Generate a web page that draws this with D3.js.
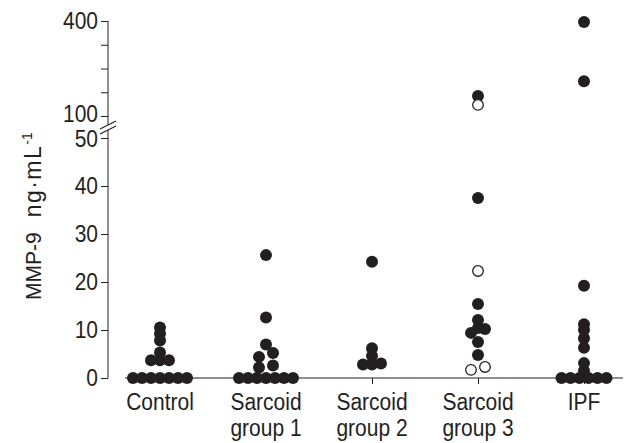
<!DOCTYPE html>
<html>
<head>
<meta charset="utf-8">
<script src="https://cdn.jsdelivr.net/npm/d3@7"></script>
<style>
  body { margin: 0; background: #fff; }
  svg { display: block; font-family: "Liberation Sans", Arial, Helvetica, sans-serif; }
  .axis text { font-size: 21px; fill: #231f20; }
  .axis line, .axis path { stroke: #231f20; }
</style>
</head>
<body>
<div id="chart"></div>
<script>
// groups on the x axis
const groups = ["Control", "Sarcoid group 1", "Sarcoid group 2", "Sarcoid group 3", "IPF"];

// MMP-9 values (ng/mL)
const control   = [10.5, 9.2, 7.8, 5.3, 3.7, 3.7, 3.7, 0, 0, 0, 0, 0, 0, 0];
const sarcoid1  = [25.6, 12.6, 7.0, 5.2, 4.4, 2.6, 2.2, 0, 0, 0, 0, 0, 0, 0];
const sarcoid2  = [24.2, 6.2, 4.6, 3.0, 2.8, 2.8];
const sarcoid3  = [163, 37.5, 15.4, 12.1, 10.4, 10.2, 9.4, 7.5, 4.8];
const sarcoid3Open = [135, 22.3, 2.3, 1.7];
const ipf       = [397, 210, 19.2, 11.2, 10.0, 8.3, 6.3, 3.1, 1.5, 0, 0, 0, 0, 0, 0];

// y axis ticks, broken axis
const lowTicks  = [0, 10, 20, 30, 40, 50];
const highTicks = [100, 175, 250, 325, 400];
const highLabels = [100, 400];

const widthSvg = 629;
const heightSvg = 443;
const margin = {top: 21, right: 9, bottom: 65, left: 108};
const width = widthSvg - margin.left - margin.right;
const height = heightSvg - margin.top - margin.bottom;
const ink = "#231f20";
const stretch = "scale(1,1.1)"; // the original type is a tall Helvetica

const svg = d3.select("#chart").append("svg")
    .attr("width", widthSvg)
    .attr("height", heightSvg);

const g = svg.append("g")
    .attr("transform", "translate(" + margin.left + "," + margin.top + ")");

const x = d3.scalePoint().domain(groups).range([52, 476]);
const yLow = d3.scaleLinear().domain([0, 50]).range([height, 117]);
const yHigh = d3.scaleLinear().domain([100, 400]).range([95, 0]);
const y = v => v > 50 ? yHigh(v) : yLow(v);

// points
const series = [
  {group: groups[0], values: control, open: false},
  {group: groups[1], values: sarcoid1, open: false},
  {group: groups[2], values: sarcoid2, open: false},
  {group: groups[3], values: sarcoid3, open: false},
  {group: groups[3], values: sarcoid3Open, open: true},
  {group: groups[4], values: ipf, open: false}
];
let points = [];
series.forEach(s => s.values.forEach(v => points.push({group: s.group, value: v, open: s.open, py: y(v)})));

// simple dot-plot layout: values that fall on the same row are spread sideways
groups.forEach(grp => {
  const pts = points.filter(p => p.group === grp).sort((a, b) => b.py - a.py);
  let rows = [];
  pts.forEach(p => {
    const row = rows[rows.length - 1];
    if (row && Math.abs(row[0].py - p.py) <= 4) row.push(p);
    else rows.push([p]);
  });
  rows.forEach(row => {
    const n = row.length;
    const step = n > 2 ? 9 : 14;
    const slots = d3.range(n).map(i => (i - (n - 1) / 2) * step)
      .sort((a, b) => Math.abs(a) - Math.abs(b) || a - b);
    row.forEach((p, i) => p.dx = slots[i]);
  });
});

// y axis
const axLow = g.append("g").attr("class", "axis")
    .call(d3.axisLeft(yLow).tickValues(lowTicks).tickSize(7).tickPadding(3).tickSizeOuter(0));
const axHigh = g.append("g").attr("class", "axis")
    .call(d3.axisLeft(yHigh).tickValues(highTicks).tickSize(7).tickPadding(3).tickSizeOuter(0)
      .tickFormat(d => highLabels.includes(d) ? d : ""));
g.selectAll(".axis .domain").remove();
g.selectAll(".axis text").attr("font-family", null).attr("transform", stretch);
// labels either side of the break sit a little apart
axHigh.selectAll(".tick text").filter(d => d === 100).attr("y", -2);
axLow.selectAll(".tick text").filter(d => d === 50).attr("y", 1);

g.append("line")
    .attr("x1", 0).attr("x2", 0)
    .attr("y1", yHigh(400)).attr("y2", yLow(0))
    .attr("stroke", ink);

// break marks
const by = (yHigh(100) + yLow(50)) / 2;
g.append("polygon")
    .attr("points", [[-8, by + 2], [8, by - 6], [8, by - 1], [-8, by + 7]].join(" "))
    .attr("fill", "#fff");
[by + 2, by + 7].forEach(b => {
  g.append("line")
    .attr("x1", -8).attr("y1", b)
    .attr("x2", 8).attr("y2", b - 8)
    .attr("stroke", ink).attr("stroke-width", 1.2);
});

// x axis
g.append("line")
    .attr("x1", 17).attr("x2", width + 3)
    .attr("y1", height).attr("y2", height)
    .attr("stroke", ink);
const xAxis = g.append("g").attr("class", "axis")
    .attr("transform", "translate(0," + height + ")")
    .call(d3.axisBottom(x).tickSize(6).tickFormat(""));
xAxis.select(".domain").remove();

const labels = g.append("g").attr("class", "axis");
groups.forEach(grp => {
  const parts = grp.startsWith("Sarcoid") ? ["Sarcoid", grp.slice(8)] : [grp];
  parts.forEach((p, i) => {
    labels.append("text")
      .attr("transform", "translate(" + x(grp) + "," + (height + 32 + i * 26) + ") " + stretch)
      .attr("text-anchor", "middle")
      .text(p);
  });
});

// y label
const yl = svg.append("text")
    .attr("transform", "translate(41,300) rotate(-90) scale(1,1.08)")
    .attr("text-anchor", "start")
    .attr("font-size", 21)
    .attr("fill", ink);
yl.append("tspan").text("MMP-9");
yl.append("tspan").attr("dx", 15).attr("font-size", 23).attr("letter-spacing", 1.5)
    .text("ng\u00b7mL");
yl.append("tspan").attr("font-size", 14).attr("dy", -8).text("-1");

// dots
g.selectAll(".dot")
  .data(points)
  .enter().append("circle")
    .attr("class", "dot")
    .attr("cx", d => x(d.group) + d.dx)
    .attr("cy", d => d.py)
    .attr("r", d => d.open ? 5.3 : 6)
    .attr("fill", d => d.open ? "#fff" : ink)
    .attr("stroke", d => d.open ? ink : "none")
    .attr("stroke-width", 1.3);
</script>
</body>
</html>
